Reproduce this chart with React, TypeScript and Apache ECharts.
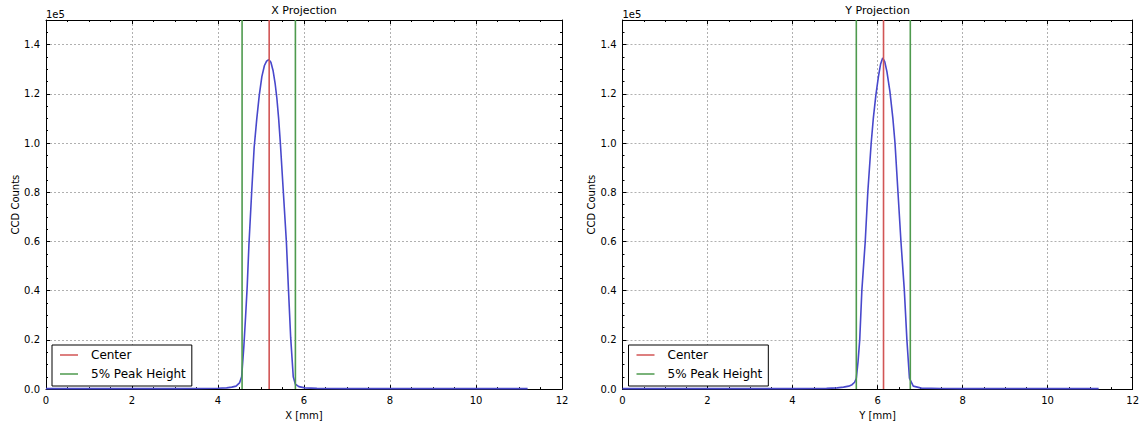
import React, { useEffect, useRef } from "react";
import * as echarts from "echarts";

// X projection profile (position in mm, CCD counts)
const xProjPosMm = [0, 1, 2, 3, 3.6, 4.0, 4.2, 4.32, 4.42, 4.5, 4.55, 4.6, 4.64, 4.68, 4.72, 4.78, 4.84, 4.9, 4.96, 5.02, 5.08, 5.13, 5.18, 5.23, 5.28, 5.33, 5.37, 5.41, 5.45, 5.52, 5.59, 5.64, 5.69, 5.75, 5.8, 5.88, 6.02, 6.3, 7, 8, 9, 10, 11.2];
const xProjCounts = [200, 200, 200, 200, 250, 350, 500, 800, 1200, 2500, 5000, 17000, 29000, 42000, 59000, 79000, 98000, 109500, 119500, 127000, 131500, 133300, 133900, 132800, 129500, 124000, 118000, 110000, 100000, 80000, 60000, 40000, 21000, 5000, 2000, 1000, 500, 300, 200, 200, 200, 200, 200];

// Y projection profile
const yProjPosMm = [0, 1, 2, 3, 4, 4.8, 5.05, 5.2, 5.32, 5.4, 5.46, 5.5, 5.54, 5.58, 5.63, 5.71, 5.77, 5.85, 5.9, 5.96, 6.02, 6.07, 6.12, 6.17, 6.22, 6.29, 6.36, 6.41, 6.48, 6.55, 6.63, 6.69, 6.75, 6.84, 7.03, 7.5, 8, 9, 10, 11.2];
const yProjCounts = [200, 200, 200, 200, 200, 300, 500, 800, 1200, 1800, 2800, 4400, 11000, 20000, 40000, 60000, 80000, 100000, 110000, 119500, 127000, 132000, 134600, 133000, 129000, 121000, 110000, 100000, 80000, 60000, 40000, 20000, 4400, 1200, 400, 250, 200, 200, 200, 200];

// Marker positions (mm)
const xCenter = 5.19;
const xPeak5 = [4.56, 5.8];
const yCenter = 6.14;
const yPeak5 = [5.5, 6.77];

const panelTitles = ["X Projection", "Y Projection"];
const xAxisNames = ["X [mm]", "Y [mm]"];
const yAxisName = "CCD Counts";
const legendNames = ["Center", "5% Peak Height"];

const X_MIN = 0, X_MAX = 12, X_STEP = 2;
const Y_MIN = 0, Y_MAX = 150000, Y_STEP = 20000;

const FONT = "DejaVu Sans";
const BLUE = "#4848cc";
const RED = "#d25555";
const GREEN = "#4e9a4e";

export default function App() {
  const ref = useRef<HTMLDivElement>(null);
  useEffect(() => {
    if (!ref.current) return;
    const chart = echarts.init(ref.current, undefined, { renderer: "svg" });

    const grids = [
      { left: 46, right: 580, top: 19.5, bottom: 34 },
      { left: 622.5, right: 6, top: 19.5, bottom: 34 },
    ];

    const black = { color: "#000", width: 1 };
    const xAxes: any[] = [];
    const yAxes: any[] = [];
    grids.forEach((_, g) => {
      const baseX = {
        gridIndex: g,
        type: "value",
        min: X_MIN,
        max: X_MAX,
        interval: X_STEP,
        axisLine: { show: true, onZero: false, lineStyle: black },
        axisTick: { show: true, inside: true, length: 4, lineStyle: black },
        minorTick: { show: true, splitNumber: 4, length: 2, lineStyle: black },
      };
      xAxes.push({
        ...baseX,
        position: "bottom",
        axisLabel: { fontSize: 10, color: "#000", margin: 6, fontFamily: FONT },
        splitLine: { show: true, lineStyle: { color: "#b0b0b0", type: [2, 2], width: 1 } },
        name: xAxisNames[g],
        nameLocation: "middle",
        nameGap: 19,
        nameTextStyle: { fontSize: 10, color: "#000", fontFamily: FONT },
      });
      xAxes.push({
        ...baseX,
        position: "top",
        axisLabel: { show: false },
        splitLine: { show: false },
        name: panelTitles[g],
        nameLocation: "middle",
        nameGap: 4,
        nameTextStyle: { fontSize: 11, color: "#000", fontFamily: FONT },
      });
      const baseY = {
        gridIndex: g,
        type: "value",
        min: Y_MIN,
        max: Y_MAX,
        interval: Y_STEP,
        axisLine: { show: true, onZero: false, lineStyle: black },
        axisTick: { show: true, inside: true, length: 4, lineStyle: black },
        minorTick: { show: true, splitNumber: 4, length: 2, lineStyle: black },
      };
      yAxes.push({
        ...baseY,
        position: "left",
        axisLabel: {
          fontSize: 10,
          color: "#000",
          margin: 6,
          fontFamily: FONT,
          formatter: (v: number) => (v > 140000 ? "" : (v / 1e5).toFixed(1)),
        },
        splitLine: { show: true, lineStyle: { color: "#b0b0b0", type: [2, 2], width: 1 } },
        name: yAxisName,
        nameLocation: "middle",
        nameGap: 26,
        nameTextStyle: { fontSize: 10, color: "#000", fontFamily: FONT },
      });
      yAxes.push({
        ...baseY,
        position: "right",
        axisLabel: { show: false },
        splitLine: { show: false },
      });
    });

    const profile = (xs: number[], ys: number[]) => xs.map((x, i) => [x, ys[i]]);
    const vline = (x: number) => [[x, Y_MIN], [x, Y_MAX]];

    const panels = [
      { pos: xProjPosMm, counts: xProjCounts, center: xCenter, peak: xPeak5 },
      { pos: yProjPosMm, counts: yProjCounts, center: yCenter, peak: yPeak5 },
    ];

    const series: any[] = [];
    panels.forEach((p, g) => {
      const axes = { xAxisIndex: g * 2, yAxisIndex: g * 2 };
      series.push({
        type: "line",
        name: "profile" + g,
        ...axes,
        data: profile(p.pos, p.counts),
        symbol: "none",
        lineStyle: { color: BLUE, width: 1.6 },
        z: 3,
      });
      series.push({
        type: "line",
        name: legendNames[0],
        ...axes,
        data: vline(p.center),
        symbol: "none",
        itemStyle: { color: RED },
        lineStyle: { color: RED, width: 1.6 },
        z: 4,
      });
      p.peak.forEach((x) => {
        series.push({
          type: "line",
          name: legendNames[1],
          ...axes,
          data: vline(x),
          symbol: "none",
          itemStyle: { color: GREEN },
          lineStyle: { color: GREEN, width: 1.6 },
          z: 4,
        });
      });
    });

    const legendBase = {
      orient: "vertical",
      top: 345,
      data: legendNames,
      icon: "rect",
      backgroundColor: "#fff",
      borderColor: "#000",
      borderWidth: 1,
      borderRadius: 0,
      padding: [3, 6, 5, 8],
      itemWidth: 18,
      itemHeight: 1.5,
      itemGap: 5,
      selectedMode: false,
      textStyle: { fontSize: 12, color: "#000", fontFamily: FONT, padding: [0, 0, 0, 8], lineHeight: 14 },
    };

    chart.setOption({
      animation: false,
      backgroundColor: "#fff",
      textStyle: { fontFamily: FONT },
      grid: grids,
      xAxis: xAxes,
      yAxis: yAxes,
      series,
      legend: [
        { ...legendBase, left: 52 },
        { ...legendBase, left: 628.5 },
      ],
      graphic: [
        { type: "text", left: 46, top: 9, style: { text: "1e5", fontSize: 10, fill: "#000", fontFamily: FONT } },
        { type: "text", left: 622.5, top: 9, style: { text: "1e5", fontSize: 10, fill: "#000", fontFamily: FONT } },
      ],
    });

    return () => chart.dispose();
  }, []);

  return (
    <div
      ref={ref}
      style={{ position: "fixed", left: 0, top: 0, width: 1142, height: 425 }}
    />
  );
}
